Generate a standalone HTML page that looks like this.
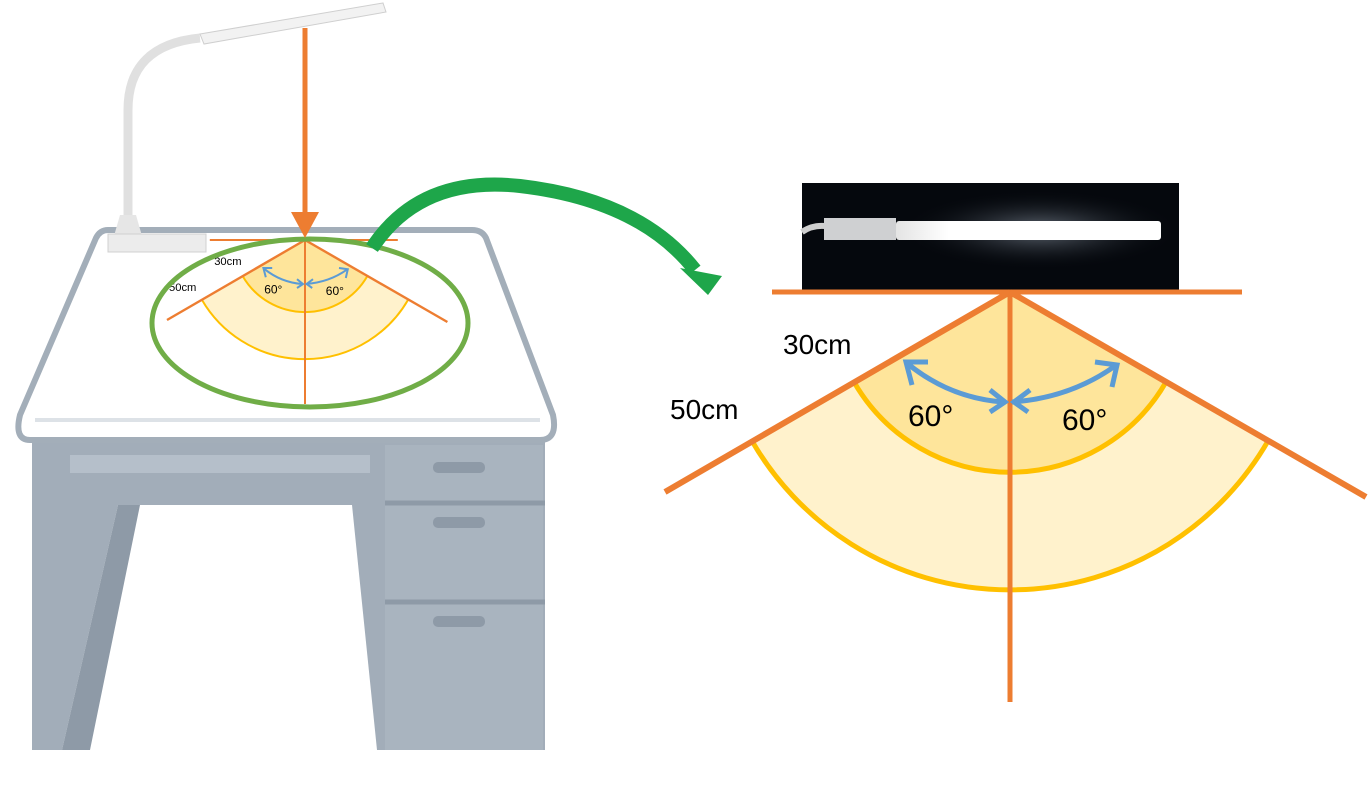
<!DOCTYPE html>
<html><head><meta charset="utf-8"><style>
html,body{margin:0;padding:0;background:#fff;}
svg{display:block;}
</style></head><body>
<svg width="1372" height="785" viewBox="0 0 1372 785" xmlns="http://www.w3.org/2000/svg" font-family="Liberation Sans, sans-serif">
<defs>
<g id="fan">
  <path d="M1010 292 L752 441 A298 298 0 0 0 1268 441 Z" fill="#fff2cc"/>
  <path d="M1010 292 L854 382 A180 180 0 0 0 1166 382 Z" fill="#fee59b"/>
  <path d="M752 441 A298 298 0 0 0 1268 441" fill="none" stroke="#ffc000" stroke-width="5"/>
  <path d="M854 382 A180 180 0 0 0 1166 382" fill="none" stroke="#ffc000" stroke-width="5"/>
  <line x1="772" y1="292" x2="1242" y2="292" stroke="#ed7d31" stroke-width="5"/>
  <line x1="1010" y1="292" x2="1010" y2="702" stroke="#ed7d31" stroke-width="5"/>
  <line x1="1010" y1="292" x2="665" y2="492" stroke="#ed7d31" stroke-width="6"/>
  <line x1="1010" y1="292" x2="1366" y2="497" stroke="#ed7d31" stroke-width="6"/>
  <path d="M908 364 Q950 398 1003 402" fill="none" stroke="#5b9bd5" stroke-width="5"/>
  <path d="M1012 402 Q1070 398 1115 366" fill="none" stroke="#5b9bd5" stroke-width="5"/>
  <path d="M912 385 L906 362 L928 362 M990 390 L1005 402 L990 412 M1030 390 L1014 402 L1028 412 M1095 362 L1117 365 L1112 387" fill="none" stroke="#5b9bd5" stroke-width="5"/>
  <text x="783" y="354" font-size="28" fill="#000">30cm</text>
  <text x="670" y="419" font-size="28" fill="#000">50cm</text>
  <text x="908" y="426" font-size="30" fill="#000">60°</text>
  <text x="1062" y="430" font-size="30" fill="#000">60°</text>
</g>
<linearGradient id="lb" x1="0" x2="1"><stop offset="0" stop-color="#e4e4e4"/><stop offset="0.2" stop-color="#fff"/><stop offset="1" stop-color="#fff"/></linearGradient>
<radialGradient id="glow" cx="0.5" cy="0.5" r="0.5"><stop offset="0" stop-color="#8a95a3" stop-opacity="0.7"/><stop offset="1" stop-color="#05080d" stop-opacity="0"/></radialGradient>
</defs>

<!-- desk body -->
<rect x="32" y="438" width="513" height="312" fill="#a2adb9"/>
<rect x="70" y="455" width="300" height="18" fill="#b5bfca"/>
<path d="M118 505 L352 505 L377 750 L62 750 Z" fill="#fff"/>
<path d="M62 750 L118 505 L140 505 L90 750 Z" fill="#8e9aa7"/>
<rect x="385" y="445" width="158" height="305" fill="#a9b4bf"/>
<line x1="385" y1="503" x2="545" y2="503" stroke="#8e9aa7" stroke-width="5"/>
<line x1="385" y1="602" x2="545" y2="602" stroke="#8e9aa7" stroke-width="5"/>
<rect x="433" y="462" width="52" height="11" rx="5" fill="#8e9aa7"/>
<rect x="433" y="517" width="52" height="11" rx="5" fill="#8e9aa7"/>
<rect x="433" y="616" width="52" height="11" rx="5" fill="#8e9aa7"/>
<!-- desk top -->
<path d="M108 230 L472 230 Q482 230 486 238 L553 415 Q558 440 540 440 L30 440 Q14 440 20 415 L96 238 Q100 230 108 230 Z" fill="#fff" stroke="#a3aeb9" stroke-width="6"/>
<line x1="35" y1="420" x2="540" y2="420" stroke="#dde2e7" stroke-width="4"/>

<!-- lamp -->
<path d="M128 228 L128 110 Q128 45 200 38" fill="none" stroke="#e0e0e0" stroke-width="9"/>
<path d="M120 215 L136 215 L142 236 L114 236 Z" fill="#e6e6e6"/>
<rect x="108" y="234" width="98" height="18" fill="#ececec" stroke="#d0d0d0"/>
<path d="M200 34 L383 3 L386 12 L204 44 Z" fill="#f2f2f2" stroke="#cfcfcf"/>

<!-- small fan -->
<use href="#fan" transform="translate(305 240) scale(0.4) translate(-1010 -292)"/>
<ellipse cx="310" cy="323" rx="158" ry="84" fill="none" stroke="#70ad47" stroke-width="5"/>
<!-- orange down arrow -->
<line x1="305" y1="28" x2="305" y2="214" stroke="#ed7d31" stroke-width="5"/>
<path d="M291 212 L319 212 L305 238 Z" fill="#ed7d31"/>

<!-- green curved arrow -->
<path d="M372 248 Q420 175 520 186 Q640 200 695 270" fill="none" stroke="#1ea64a" stroke-width="14"/>
<path d="M680 268 L722 276 L708 295 Z" fill="#1ea64a"/>

<!-- photo -->
<rect x="802" y="183" width="377" height="107" fill="#05080d"/>
<ellipse cx="1040" cy="230" rx="140" ry="40" fill="url(#glow)"/>
<path d="M802 232 Q812 225 825 226" fill="none" stroke="#cfcfcf" stroke-width="6"/>
<rect x="824" y="218" width="72" height="22" fill="#cfd0d2"/>
<rect x="896" y="221" width="265" height="19" rx="3" fill="url(#lb)"/>

<!-- big fan -->
<use href="#fan"/>
</svg>
</body></html>
